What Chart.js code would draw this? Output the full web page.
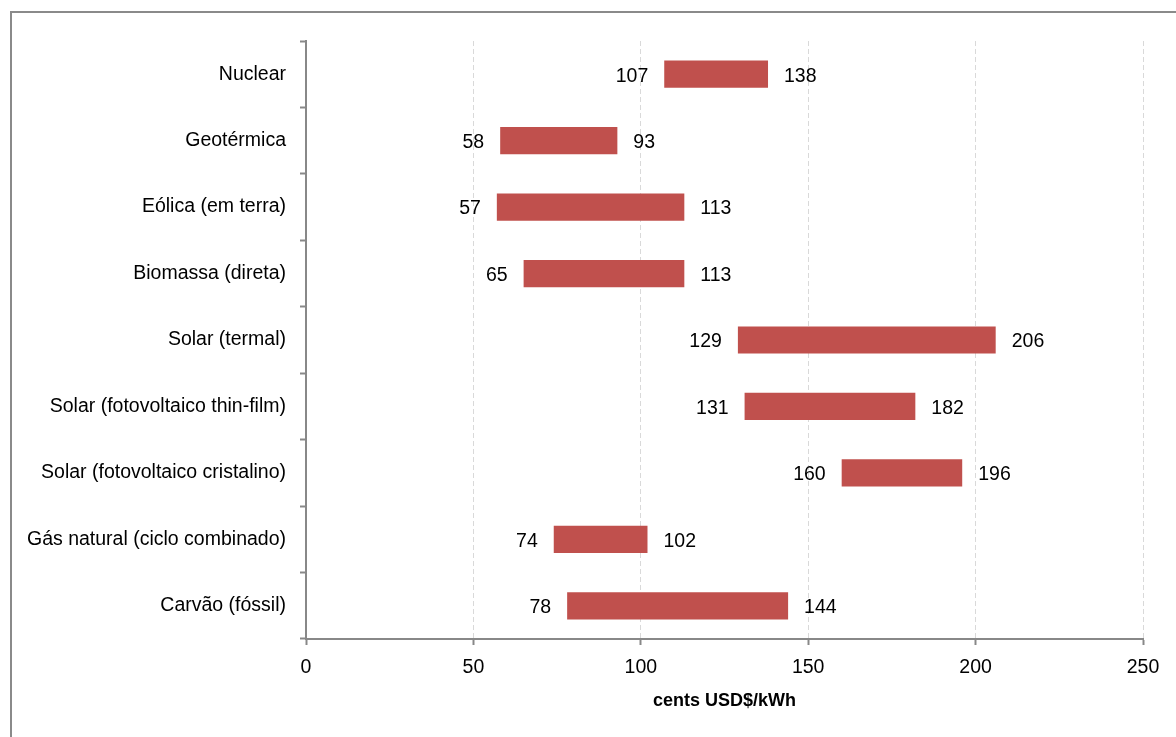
<!DOCTYPE html>
<html>
<head>
<meta charset="utf-8">
<script src="https://cdn.jsdelivr.net/npm/chart.js@4/dist/chart.umd.min.js"></script>
<style>
    html, body { margin: 0; padding: 0; background: #fff; overflow: hidden; }
    #moldura { position: absolute; left: 10px; top: 11px; width: 1300px; height: 900px; border: 2px solid #8a8a8a; box-sizing: border-box; }
    #caixa { position: absolute; left: 0; top: 0; width: 1176px; height: 737px; }
</style>
</head>
<body>
<div id="moldura"></div>
<div id="caixa"><canvas id="custosChart"></canvas></div>
<script>
const categorias = [
    'Nuclear',
    'Geotérmica',
    'Eólica (em terra)',
    'Biomassa (direta)',
    'Solar (termal)',
    'Solar (fotovoltaico thin-film)',
    'Solar (fotovoltaico cristalino)',
    'Gás natural (ciclo combinado)',
    'Carvão (fóssil)'
];
const custoMinimo = [107, 58, 57, 65, 129, 131, 160, 74, 78];
const custoMaximo = [138, 93, 113, 113, 206, 182, 196, 102, 144];
const ticksEixoX = [0, 50, 100, 150, 200, 250];
const tituloEixoX = 'cents USD$/kWh';

const fonte = "'Liberation Sans', Arial, sans-serif";

// rotulos de inicio e fim de cada barra
const rotulosBarras = {
    id: 'rotulosBarras',
    afterDatasetsDraw(chart) {
        const ctx = chart.ctx;
        const meta = chart.getDatasetMeta(0);
        ctx.save();
        ctx.font = `19.5px ${fonte}`;
        ctx.fillStyle = '#000';
        ctx.textBaseline = 'middle';
        meta.data.forEach((barra, i) => {
            const props = barra.getProps(['x', 'y', 'base'], true);
            ctx.textAlign = 'right';
            ctx.fillText(String(custoMinimo[i]), props.base - 16, props.y + 2);
            ctx.textAlign = 'left';
            ctx.fillText(String(custoMaximo[i]), props.x + 16, props.y + 2);
        });
        ctx.restore();
    }
};

function inicializarGrafico() {
    const dados = categorias.map((c, i) => [custoMinimo[i], custoMaximo[i]]);

    window.custosChart = new Chart(document.getElementById('custosChart').getContext('2d'), {
        type: 'bar',
        data: {
            labels: categorias,
            datasets: [{
                data: dados,
                backgroundColor: '#c0504d',
                borderWidth: 0,
                categoryPercentage: 1,
                barPercentage: 0.41
            }]
        },
        options: {
            indexAxis: 'y',
            responsive: true,
            maintainAspectRatio: false,
            animation: false,
            layout: { padding: { left: 0, top: 41, right: 33, bottom: 0 } },
            plugins: {
                legend: { display: false },
                tooltip: { enabled: false }
            },
            scales: {
                x: {
                    min: 0,
                    max: 250,
                    afterBuildTicks: (scale) => {
                        scale.ticks = ticksEixoX.map(v => ({ value: v }));
                    },
                    afterFit: (scale) => { scale.height = 98; },
                    grid: {
                        color: '#d9d9d9',
                        lineWidth: 1,
                        drawTicks: true,
                        tickLength: 6,
                        tickColor: '#888',
                        tickWidth: 2
                    },
                    border: { display: true, color: '#888', width: 2, dash: [5, 3] },
                    ticks: {
                        color: '#000',
                        padding: 11,
                        font: { family: fonte, size: 19.5 }
                    },
                    title: {
                        display: true,
                        text: tituloEixoX,
                        color: '#000',
                        font: { family: fonte, size: 18, weight: 'bold' },
                        padding: { top: 0, bottom: 25 }
                    }
                },
                y: {
                    afterFit: (scale) => { scale.width = 306; },
                    grid: {
                        offset: true,
                        drawOnChartArea: false,
                        drawTicks: true,
                        tickLength: 6,
                        color: '#888',
                        tickColor: '#888',
                        tickWidth: 2
                    },
                    border: { display: true, color: '#888', width: 2 },
                    ticks: {
                        color: '#000',
                        padding: 14,
                        font: { family: fonte, size: 19.5 }
                    }
                }
            }
        },
        plugins: [rotulosBarras]
    });
}

document.addEventListener('DOMContentLoaded', () => {
    inicializarGrafico();
});
</script>
</body>
</html>
